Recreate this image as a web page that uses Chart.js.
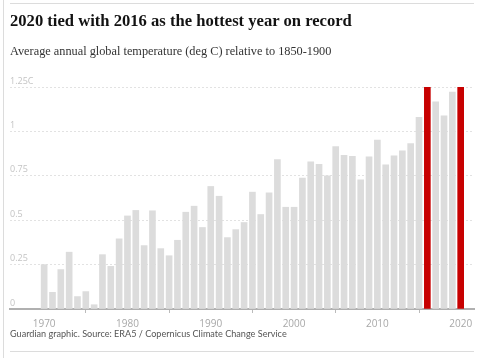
<!DOCTYPE html>
<html>
<head>
<meta charset="utf-8">
<script src="https://cdn.jsdelivr.net/npm/chart.js@4.4.1/dist/chart.umd.min.js"></script>
<style>
  html, body { margin: 0; padding: 0; background: #fff; }
  body { width: 484px; height: 358px; position: relative; overflow: hidden; }
  #wrap { position: absolute; left: 0; top: 0; width: 484px; height: 358px; }
  .vline { position: absolute; left: 3px; top: 0; width: 1px; height: 358px; background: #dcdcdc; }
  .hline { position: absolute; left: 10px; width: 464px; height: 1px; background: #dcdcdc; }
  .title { position: absolute; left: 10px; top: 12px; font: bold 16.6px "Liberation Serif", serif; color: #121212; line-height: 17px; white-space: nowrap; }
  .sub { position: absolute; left: 10px; top: 45px; font: 12.3px "Liberation Serif", serif; color: #333; line-height: 12px; white-space: nowrap; }
  .foot { position: absolute; left: 10px; top: 328.5px; font: 9.1px "Lato", sans-serif; color: #555; line-height: 10px; white-space: nowrap; }
  canvas { position: absolute; left: 0; top: 0; }
</style>
</head>
<body>
<div id="wrap"><canvas id="c" width="484" height="358"></canvas></div>
<div class="vline"></div>
<div class="hline" style="top:3px"></div>
<div class="hline" style="top:351px"></div>
<div class="title">2020 tied with 2016 as the hottest year on record</div>
<div class="sub">Average annual global temperature (deg C) relative to 1850-1900</div>
<div class="foot">Guardian graphic. Source: ERA5 / Copernicus Climate Change Service</div>
<script>
const years = [1970,1971,1972,1973,1974,1975,1976,1977,1978,1979,
  1980,1981,1982,1983,1984,1985,1986,1987,1988,1989,
  1990,1991,1992,1993,1994,1995,1996,1997,1998,1999,
  2000,2001,2002,2003,2004,2005,2006,2007,2008,2009,
  2010,2011,2012,2013,2014,2015,2016,2017,2018,2019,2020];
const anomaly = [0.25,0.094,0.222,0.32,0.07,0.098,0.024,0.306,0.24,0.395,
  0.524,0.555,0.357,0.553,0.34,0.30,0.387,0.545,0.579,0.459,
  0.69,0.635,0.402,0.447,0.487,0.658,0.532,0.654,0.842,0.573,
  0.573,0.737,0.829,0.814,0.75,0.915,0.865,0.859,0.727,0.857,
  0.951,0.812,0.863,0.891,0.932,1.079,1.263,1.167,1.088,1.222,1.254];
const highlightYears = [2016, 2020];
const xTickYears = [1970,1980,1990,2000,2010,2020];
const yTickValues = [0,0.25,0.5,0.75,1,1.25];

const points = years.map((y,i)=>({x:y, y:anomaly[i]}));
const colors = years.map(y => highlightYears.includes(y) ? '#c70000' : '#dcdcdc');

new Chart(document.getElementById('c'), {
  type: 'bar',
  data: { datasets: [{ data: points, backgroundColor: colors, barThickness: 6, borderWidth: 0 }] },
  options: {
    responsive: false, animation: false,
    layout: { padding: { left: 10, right: 10, top: 87, bottom: 23 } },
    plugins: { legend: { display: false }, tooltip: { enabled: false } },
    scales: {
      x: {
        type: 'linear', min: 1965.9, max: 2021.6, offset: false,
        afterBuildTicks: s => { s.ticks = xTickYears.map(v => ({value: v})); },
        grid: { display: true, drawOnChartArea: false, drawTicks: true, tickLength: 4, color: '#bbb' },
        border: { display: true, color: '#b0b0b0', width: 2 },
        ticks: { color: '#a8a8a8', font: { family: 'Open Sans', size: 10 }, padding: 5, maxRotation: 0, autoSkip: false,
          callback: v => String(v) }
      },
      y: {
        min: 0, max: 1.25,
        afterBuildTicks: s => { s.ticks = yTickValues.map(v => ({value: v})); },
        grid: { color: '#e2e2e2', drawTicks: false, lineWidth: 1 },
        border: { display: false, dash: [2,2] },
        ticks: { mirror: true, padding: 0, labelOffset: -6, color: '#c4c4c4', font: { family: 'Open Sans', size: 9 },
          callback: v => v === 1.25 ? '1.25C' : String(v) }
      }
    }
  }
});
</script>
</body>
</html>
